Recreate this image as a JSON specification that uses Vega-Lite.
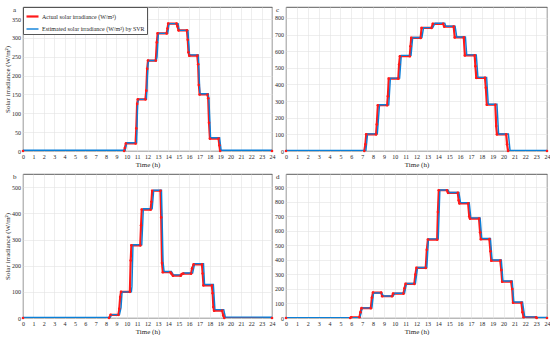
{
  "$schema": "https://vega.github.io/schema/vega-lite/v6.json",
  "padding": {"left": 3, "top": 5, "right": 0, "bottom": 0},
  "config": {
    "font": "Liberation Serif",
    "view": {"stroke": "#333333", "strokeWidth": 0.8},
    "axis": {"labelFontSize": 6, "titleFontSize": 7, "titleFontWeight": "normal", "labelColor": "#262626", "titleColor": "#262626", "ticks": false, "domain": false, "gridColor": "#e3e3e3", "gridWidth": 0.6, "labelPadding": 2.5, "titlePadding": 1, "labelOverlap": false, "labelFlush": false},
    "legend": {"orient": "top-left", "offset": 0, "title": null, "labelFontSize": 6, "labelFont": "Liberation Serif", "labelColor": "#262626", "symbolType": "stroke", "symbolSize": 144, "symbolStrokeWidth": 2, "fillColor": "white", "strokeColor": "#555555", "padding": 2, "rowPadding": 1, "labelOffset": 2},
    "title": {"fontSize": 7, "fontWeight": "normal", "font": "Liberation Serif", "color": "#262626", "anchor": "start", "offset": -6, "dx": -10, "frame": "group"}
  },
  "datasets": {
    "d": [
      {"p":"a","s":"A","t":0,"v":0},{"p":"a","s":"A","t":9.75,"v":0},{"p":"a","s":"A","t":9.82,"v":8},{"p":"a","s":"A","t":9.92,"v":20},{"p":"a","s":"A","t":10.85,"v":20},{"p":"a","s":"A","t":10.92,"v":60},{"p":"a","s":"A","t":11.0,"v":125},{"p":"a","s":"A","t":11.07,"v":137},{"p":"a","s":"A","t":11.8,"v":137},{"p":"a","s":"A","t":11.88,"v":160},{"p":"a","s":"A","t":11.97,"v":218},{"p":"a","s":"A","t":12.05,"v":240},{"p":"a","s":"A","t":12.8,"v":240},{"p":"a","s":"A","t":12.9,"v":288},{"p":"a","s":"A","t":12.98,"v":312},{"p":"a","s":"A","t":13.85,"v":312},{"p":"a","s":"A","t":13.93,"v":325},{"p":"a","s":"A","t":14.0,"v":338},{"p":"a","s":"A","t":14.8,"v":338},{"p":"a","s":"A","t":14.9,"v":330},{"p":"a","s":"A","t":15.0,"v":320},{"p":"a","s":"A","t":15.8,"v":320},{"p":"a","s":"A","t":15.88,"v":295},{"p":"a","s":"A","t":15.95,"v":262},{"p":"a","s":"A","t":16.03,"v":253},{"p":"a","s":"A","t":16.8,"v":253},{"p":"a","s":"A","t":16.88,"v":230},{"p":"a","s":"A","t":16.95,"v":175},{"p":"a","s":"A","t":17.03,"v":150},{"p":"a","s":"A","t":17.78,"v":150},{"p":"a","s":"A","t":17.85,"v":140},{"p":"a","s":"A","t":17.93,"v":75},{"p":"a","s":"A","t":18.02,"v":33},{"p":"a","s":"A","t":18.85,"v":33},{"p":"a","s":"A","t":18.93,"v":15},{"p":"a","s":"A","t":19.0,"v":0},{"p":"a","s":"A","t":24,"v":0},
      {"p":"a","s":"E","t":0,"v":2},{"p":"a","s":"E","t":9.85,"v":2},{"p":"a","s":"E","t":10.0,"v":22},{"p":"a","s":"E","t":10.95,"v":22},{"p":"a","s":"E","t":11.05,"v":125},{"p":"a","s":"E","t":11.12,"v":137},{"p":"a","s":"E","t":11.9,"v":137},{"p":"a","s":"E","t":12.05,"v":230},{"p":"a","s":"E","t":12.12,"v":240},{"p":"a","s":"E","t":12.85,"v":240},{"p":"a","s":"E","t":12.92,"v":250},{"p":"a","s":"E","t":13.05,"v":312},{"p":"a","s":"E","t":13.95,"v":312},{"p":"a","s":"E","t":14.08,"v":338},{"p":"a","s":"E","t":14.95,"v":338},{"p":"a","s":"E","t":15.05,"v":320},{"p":"a","s":"E","t":15.9,"v":320},{"p":"a","s":"E","t":16.05,"v":255},{"p":"a","s":"E","t":16.9,"v":255},{"p":"a","s":"E","t":17.05,"v":152},{"p":"a","s":"E","t":17.85,"v":152},{"p":"a","s":"E","t":17.92,"v":138},{"p":"a","s":"E","t":18.08,"v":35},{"p":"a","s":"E","t":18.95,"v":35},{"p":"a","s":"E","t":19.1,"v":2},{"p":"a","s":"E","t":24,"v":2},
      {"p":"b","s":"A","t":0,"v":0},{"p":"b","s":"A","t":8.3,"v":0},{"p":"b","s":"A","t":8.45,"v":12},{"p":"b","s":"A","t":9.2,"v":12},{"p":"b","s":"A","t":9.28,"v":35},{"p":"b","s":"A","t":9.37,"v":80},{"p":"b","s":"A","t":9.45,"v":100},{"p":"b","s":"A","t":10.3,"v":100},{"p":"b","s":"A","t":10.38,"v":220},{"p":"b","s":"A","t":10.45,"v":278},{"p":"b","s":"A","t":11.3,"v":278},{"p":"b","s":"A","t":11.38,"v":355},{"p":"b","s":"A","t":11.45,"v":415},{"p":"b","s":"A","t":12.3,"v":415},{"p":"b","s":"A","t":12.38,"v":445},{"p":"b","s":"A","t":12.45,"v":487},{"p":"b","s":"A","t":13.25,"v":487},{"p":"b","s":"A","t":13.32,"v":385},{"p":"b","s":"A","t":13.4,"v":210},{"p":"b","s":"A","t":13.48,"v":175},{"p":"b","s":"A","t":14.2,"v":175},{"p":"b","s":"A","t":14.3,"v":170},{"p":"b","s":"A","t":14.45,"v":162},{"p":"b","s":"A","t":15.2,"v":162},{"p":"b","s":"A","t":15.3,"v":168},{"p":"b","s":"A","t":15.45,"v":170},{"p":"b","s":"A","t":16.2,"v":170},{"p":"b","s":"A","t":16.3,"v":190},{"p":"b","s":"A","t":16.45,"v":205},{"p":"b","s":"A","t":17.25,"v":205},{"p":"b","s":"A","t":17.32,"v":170},{"p":"b","s":"A","t":17.4,"v":125},{"p":"b","s":"A","t":18.2,"v":125},{"p":"b","s":"A","t":18.28,"v":95},{"p":"b","s":"A","t":18.35,"v":42},{"p":"b","s":"A","t":18.42,"v":28},{"p":"b","s":"A","t":19.2,"v":28},{"p":"b","s":"A","t":19.3,"v":10},{"p":"b","s":"A","t":19.4,"v":0},{"p":"b","s":"A","t":24,"v":0},
      {"p":"b","s":"E","t":0,"v":2},{"p":"b","s":"E","t":8.4,"v":2},{"p":"b","s":"E","t":8.55,"v":13},{"p":"b","s":"E","t":9.3,"v":13},{"p":"b","s":"E","t":9.45,"v":40},{"p":"b","s":"E","t":9.55,"v":100},{"p":"b","s":"E","t":10.45,"v":100},{"p":"b","s":"E","t":10.5,"v":120},{"p":"b","s":"E","t":10.6,"v":280},{"p":"b","s":"E","t":11.45,"v":280},{"p":"b","s":"E","t":11.6,"v":418},{"p":"b","s":"E","t":12.45,"v":418},{"p":"b","s":"E","t":12.6,"v":489},{"p":"b","s":"E","t":13.35,"v":489},{"p":"b","s":"E","t":13.5,"v":215},{"p":"b","s":"E","t":13.6,"v":178},{"p":"b","s":"E","t":14.3,"v":178},{"p":"b","s":"E","t":14.5,"v":165},{"p":"b","s":"E","t":15.3,"v":165},{"p":"b","s":"E","t":15.45,"v":172},{"p":"b","s":"E","t":16.35,"v":172},{"p":"b","s":"E","t":16.55,"v":208},{"p":"b","s":"E","t":17.4,"v":208},{"p":"b","s":"E","t":17.5,"v":128},{"p":"b","s":"E","t":18.35,"v":128},{"p":"b","s":"E","t":18.5,"v":32},{"p":"b","s":"E","t":19.35,"v":32},{"p":"b","s":"E","t":19.5,"v":4},{"p":"b","s":"E","t":24,"v":3},
      {"p":"c","s":"A","t":0,"v":0},{"p":"c","s":"A","t":7.2,"v":0},{"p":"c","s":"A","t":7.3,"v":40},{"p":"c","s":"A","t":7.38,"v":100},{"p":"c","s":"A","t":8.28,"v":100},{"p":"c","s":"A","t":8.35,"v":160},{"p":"c","s":"A","t":8.45,"v":275},{"p":"c","s":"A","t":9.3,"v":275},{"p":"c","s":"A","t":9.37,"v":330},{"p":"c","s":"A","t":9.45,"v":435},{"p":"c","s":"A","t":10.33,"v":435},{"p":"c","s":"A","t":10.4,"v":520},{"p":"c","s":"A","t":10.48,"v":570},{"p":"c","s":"A","t":11.38,"v":570},{"p":"c","s":"A","t":11.45,"v":630},{"p":"c","s":"A","t":11.52,"v":680},{"p":"c","s":"A","t":12.38,"v":680},{"p":"c","s":"A","t":12.47,"v":740},{"p":"c","s":"A","t":13.38,"v":740},{"p":"c","s":"A","t":13.5,"v":765},{"p":"c","s":"A","t":14.45,"v":765},{"p":"c","s":"A","t":14.55,"v":748},{"p":"c","s":"A","t":15.42,"v":748},{"p":"c","s":"A","t":15.52,"v":683},{"p":"c","s":"A","t":16.35,"v":683},{"p":"c","s":"A","t":16.45,"v":575},{"p":"c","s":"A","t":17.35,"v":575},{"p":"c","s":"A","t":17.42,"v":510},{"p":"c","s":"A","t":17.5,"v":440},{"p":"c","s":"A","t":18.3,"v":440},{"p":"c","s":"A","t":18.38,"v":380},{"p":"c","s":"A","t":18.47,"v":278},{"p":"c","s":"A","t":19.25,"v":278},{"p":"c","s":"A","t":19.33,"v":150},{"p":"c","s":"A","t":19.4,"v":100},{"p":"c","s":"A","t":20.25,"v":100},{"p":"c","s":"A","t":20.33,"v":40},{"p":"c","s":"A","t":20.42,"v":0},{"p":"c","s":"A","t":24,"v":0},
      {"p":"c","s":"E","t":0,"v":3},{"p":"c","s":"E","t":7.35,"v":3},{"p":"c","s":"E","t":7.5,"v":103},{"p":"c","s":"E","t":8.4,"v":103},{"p":"c","s":"E","t":8.6,"v":278},{"p":"c","s":"E","t":9.45,"v":278},{"p":"c","s":"E","t":9.6,"v":438},{"p":"c","s":"E","t":10.45,"v":438},{"p":"c","s":"E","t":10.6,"v":575},{"p":"c","s":"E","t":11.5,"v":575},{"p":"c","s":"E","t":11.65,"v":683},{"p":"c","s":"E","t":12.5,"v":683},{"p":"c","s":"E","t":12.65,"v":742},{"p":"c","s":"E","t":13.5,"v":742},{"p":"c","s":"E","t":13.7,"v":768},{"p":"c","s":"E","t":14.6,"v":768},{"p":"c","s":"E","t":14.7,"v":750},{"p":"c","s":"E","t":15.55,"v":750},{"p":"c","s":"E","t":15.7,"v":686},{"p":"c","s":"E","t":16.5,"v":686},{"p":"c","s":"E","t":16.62,"v":578},{"p":"c","s":"E","t":17.5,"v":578},{"p":"c","s":"E","t":17.65,"v":443},{"p":"c","s":"E","t":18.45,"v":443},{"p":"c","s":"E","t":18.6,"v":281},{"p":"c","s":"E","t":19.4,"v":281},{"p":"c","s":"E","t":19.55,"v":102},{"p":"c","s":"E","t":20.45,"v":102},{"p":"c","s":"E","t":20.6,"v":4},{"p":"c","s":"E","t":24,"v":3},
      {"p":"d","s":"A","t":0,"v":0},{"p":"d","s":"A","t":5.9,"v":0},{"p":"d","s":"A","t":6.0,"v":5},{"p":"d","s":"A","t":6.75,"v":5},{"p":"d","s":"A","t":6.85,"v":40},{"p":"d","s":"A","t":6.95,"v":68},{"p":"d","s":"A","t":7.8,"v":68},{"p":"d","s":"A","t":7.9,"v":140},{"p":"d","s":"A","t":8.0,"v":175},{"p":"d","s":"A","t":8.75,"v":175},{"p":"d","s":"A","t":8.85,"v":150},{"p":"d","s":"A","t":9.75,"v":150},{"p":"d","s":"A","t":9.85,"v":168},{"p":"d","s":"A","t":10.8,"v":168},{"p":"d","s":"A","t":10.9,"v":205},{"p":"d","s":"A","t":11.0,"v":235},{"p":"d","s":"A","t":11.8,"v":235},{"p":"d","s":"A","t":11.9,"v":300},{"p":"d","s":"A","t":12.0,"v":345},{"p":"d","s":"A","t":12.85,"v":345},{"p":"d","s":"A","t":12.95,"v":470},{"p":"d","s":"A","t":13.05,"v":540},{"p":"d","s":"A","t":13.9,"v":540},{"p":"d","s":"A","t":13.97,"v":730},{"p":"d","s":"A","t":14.05,"v":880},{"p":"d","s":"A","t":14.8,"v":880},{"p":"d","s":"A","t":14.9,"v":862},{"p":"d","s":"A","t":15.8,"v":862},{"p":"d","s":"A","t":15.88,"v":810},{"p":"d","s":"A","t":15.95,"v":790},{"p":"d","s":"A","t":16.75,"v":790},{"p":"d","s":"A","t":16.85,"v":700},{"p":"d","s":"A","t":16.92,"v":685},{"p":"d","s":"A","t":17.75,"v":685},{"p":"d","s":"A","t":17.85,"v":590},{"p":"d","s":"A","t":17.92,"v":543},{"p":"d","s":"A","t":18.7,"v":543},{"p":"d","s":"A","t":18.8,"v":460},{"p":"d","s":"A","t":18.88,"v":395},{"p":"d","s":"A","t":19.7,"v":395},{"p":"d","s":"A","t":19.8,"v":330},{"p":"d","s":"A","t":19.88,"v":250},{"p":"d","s":"A","t":20.7,"v":250},{"p":"d","s":"A","t":20.8,"v":200},{"p":"d","s":"A","t":20.88,"v":105},{"p":"d","s":"A","t":21.65,"v":105},{"p":"d","s":"A","t":21.75,"v":40},{"p":"d","s":"A","t":21.85,"v":5},{"p":"d","s":"A","t":23.0,"v":5},{"p":"d","s":"A","t":23.05,"v":0},{"p":"d","s":"A","t":24,"v":0},
      {"p":"d","s":"E","t":0,"v":2},{"p":"d","s":"E","t":6.8,"v":2},{"p":"d","s":"E","t":7.0,"v":70},{"p":"d","s":"E","t":7.9,"v":70},{"p":"d","s":"E","t":8.05,"v":172},{"p":"d","s":"E","t":8.8,"v":172},{"p":"d","s":"E","t":8.95,"v":152},{"p":"d","s":"E","t":9.85,"v":152},{"p":"d","s":"E","t":10.0,"v":170},{"p":"d","s":"E","t":10.9,"v":170},{"p":"d","s":"E","t":11.08,"v":238},{"p":"d","s":"E","t":11.9,"v":238},{"p":"d","s":"E","t":12.1,"v":348},{"p":"d","s":"E","t":12.95,"v":348},{"p":"d","s":"E","t":13.1,"v":545},{"p":"d","s":"E","t":14.0,"v":545},{"p":"d","s":"E","t":14.15,"v":882},{"p":"d","s":"E","t":14.9,"v":882},{"p":"d","s":"E","t":15.0,"v":865},{"p":"d","s":"E","t":15.9,"v":865},{"p":"d","s":"E","t":16.05,"v":795},{"p":"d","s":"E","t":16.85,"v":795},{"p":"d","s":"E","t":17.0,"v":690},{"p":"d","s":"E","t":17.85,"v":690},{"p":"d","s":"E","t":18.0,"v":548},{"p":"d","s":"E","t":18.8,"v":548},{"p":"d","s":"E","t":18.95,"v":400},{"p":"d","s":"E","t":19.8,"v":400},{"p":"d","s":"E","t":19.95,"v":255},{"p":"d","s":"E","t":20.8,"v":255},{"p":"d","s":"E","t":20.95,"v":110},{"p":"d","s":"E","t":21.75,"v":110},{"p":"d","s":"E","t":21.95,"v":8},{"p":"d","s":"E","t":23.0,"v":8},{"p":"d","s":"E","t":23.1,"v":3},{"p":"d","s":"E","t":24,"v":3}
    ]
  },
  "vconcat": [
    {
      "bounds": "flush",
      "hconcat": [
        {
          "width": 249, "height": 144,
          "title": {"text": "a"},
          "data": {"name": "d"},
          "transform": [{"filter": "datum.p == 'a'"}],
          "encoding": {
            "x": {"field": "t", "type": "quantitative", "scale": {"domain": [0, 24], "nice": false}, "axis": {"title": "Time (h)", "values": [0,1,2,3,4,5,6,7,8,9,10,11,12,13,14,15,16,17,18,19,20,21,22,23,24]}},
            "y": {"field": "v", "type": "quantitative", "scale": {"domain": [0, 382], "nice": false}, "axis": {"title": "Solar irradiance (W/m²)", "values": [0,50,100,150,200,250,300,350]}}
          },
          "layer": [
            {"mark": {"type": "line", "clip": true},
             "encoding": {
               "color": {"field": "s", "type": "nominal", "scale": {"domain": ["A", "E"], "range": ["#ff1a1a", "#0a7fd8"]}, "legend": {"labelExpr": "datum.label == 'A' ? 'Actual solar irradiance (W/m²)' : 'Estimated solar irradiance (W/m²) by SVR'"}},
               "strokeWidth": {"field": "s", "type": "nominal", "scale": {"domain": ["A", "E"], "range": [2.2, 1.4]}, "legend": null},
               "order": {"field": "t", "type": "quantitative"}
             }},
            {"transform": [{"filter": "datum.s == 'A'"}],
             "mark": {"type": "point", "shape": "circle", "filled": true, "size": 7, "color": "#ff1a1a", "opacity": 1},
             "encoding": {}}
          ]
        },
        {
          "width": 261, "height": 144,
          "title": {"text": "c"},
          "data": {"name": "d"},
          "transform": [{"filter": "datum.p == 'c'"}],
          "encoding": {
            "x": {"field": "t", "type": "quantitative", "scale": {"domain": [0, 24], "nice": false}, "axis": {"title": "Time (h)", "values": [0,1,2,3,4,5,6,7,8,9,10,11,12,13,14,15,16,17,18,19,20,21,22,23,24]}},
            "y": {"field": "v", "type": "quantitative", "scale": {"domain": [0, 866], "nice": false}, "axis": {"title": null, "values": [0,100,200,300,400,500,600,700,800]}}
          },
          "layer": [
            {"mark": {"type": "line", "clip": true},
             "encoding": {
               "color": {"field": "s", "type": "nominal", "scale": {"domain": ["A", "E"], "range": ["#ff1a1a", "#0a7fd8"]}, "legend": {"labelExpr": "datum.label == 'A' ? 'Actual solar irradiance (W/m^2)' : 'Estimated solar irradiance (W/m^2) by SVR'"}},
               "strokeWidth": {"field": "s", "type": "nominal", "scale": {"domain": ["A", "E"], "range": [2.2, 1.4]}, "legend": null},
               "order": {"field": "t", "type": "quantitative"}
             }},
            {"transform": [{"filter": "datum.s == 'A'"}],
             "mark": {"type": "point", "shape": "circle", "filled": true, "size": 7, "color": "#ff1a1a", "opacity": 1},
             "encoding": {}}
          ]
        }
      ],
      "spacing": 14
    },
    {
      "bounds": "flush",
      "hconcat": [
        {
          "width": 249, "height": 144,
          "title": {"text": "b"},
          "data": {"name": "d"},
          "transform": [{"filter": "datum.p == 'b'"}],
          "encoding": {
            "x": {"field": "t", "type": "quantitative", "scale": {"domain": [0, 24], "nice": false}, "axis": {"title": "Time (h)", "values": [0,1,2,3,4,5,6,7,8,9,10,11,12,13,14,15,16,17,18,19,20,21,22,23,24]}},
            "y": {"field": "v", "type": "quantitative", "scale": {"domain": [0, 551], "nice": false}, "axis": {"title": "Solar irradiance (W/m²)", "values": [0,100,200,300,400,500]}}
          },
          "layer": [
            {"mark": {"type": "line", "clip": true},
             "encoding": {
               "color": {"field": "s", "type": "nominal", "scale": {"domain": ["A", "E"], "range": ["#ff1a1a", "#0a7fd8"]}, "legend": {"labelExpr": "datum.label == 'A' ? 'Actual solar irradiance (W/m^2)' : 'Estimated solar irradiance (W/m^2) by SVR'"}},
               "strokeWidth": {"field": "s", "type": "nominal", "scale": {"domain": ["A", "E"], "range": [2.2, 1.4]}, "legend": null},
               "order": {"field": "t", "type": "quantitative"}
             }},
            {"transform": [{"filter": "datum.s == 'A'"}],
             "mark": {"type": "point", "shape": "circle", "filled": true, "size": 7, "color": "#ff1a1a", "opacity": 1},
             "encoding": {}}
          ]
        },
        {
          "width": 261, "height": 144,
          "title": {"text": "d"},
          "data": {"name": "d"},
          "transform": [{"filter": "datum.p == 'd'"}],
          "encoding": {
            "x": {"field": "t", "type": "quantitative", "scale": {"domain": [0, 24], "nice": false}, "axis": {"title": "Time (h)", "values": [0,1,2,3,4,5,6,7,8,9,10,11,12,13,14,15,16,17,18,19,20,21,22,23,24]}},
            "y": {"field": "v", "type": "quantitative", "scale": {"domain": [0, 992], "nice": false}, "axis": {"title": null, "values": [0,100,200,300,400,500,600,700,800,900]}}
          },
          "layer": [
            {"mark": {"type": "line", "clip": true},
             "encoding": {
               "color": {"field": "s", "type": "nominal", "scale": {"domain": ["A", "E"], "range": ["#ff1a1a", "#0a7fd8"]}, "legend": {"labelExpr": "datum.label == 'A' ? 'Actual solar irradiance (W/m^2)' : 'Estimated solar irradiance (W/m^2) by SVR'"}},
               "strokeWidth": {"field": "s", "type": "nominal", "scale": {"domain": ["A", "E"], "range": [2.2, 1.4]}, "legend": null},
               "order": {"field": "t", "type": "quantitative"}
             }},
            {"transform": [{"filter": "datum.s == 'A'"}],
             "mark": {"type": "point", "shape": "circle", "filled": true, "size": 7, "color": "#ff1a1a", "opacity": 1},
             "encoding": {}}
          ]
        }
      ],
      "spacing": 14
    }
  ],
  "spacing": 4
}
